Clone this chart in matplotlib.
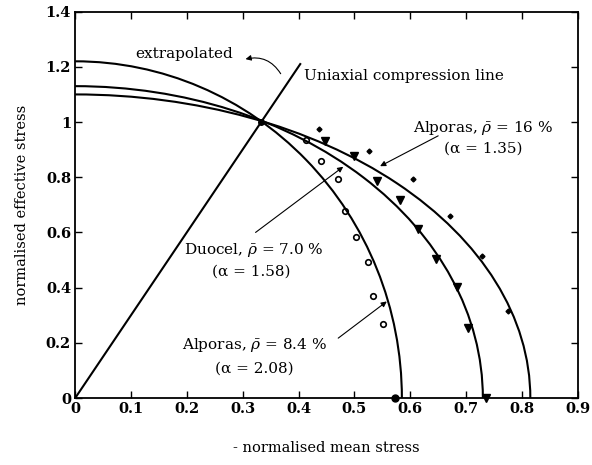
import matplotlib
matplotlib.use('Agg')
import matplotlib.pyplot as plt
from matplotlib.patches import Arc

# yield surfaces: intercepts (mean-stress axis, effective-stress axis)
curve_x_int = [0.585, 0.73, 0.815]
curve_y_int = [1.22, 1.13, 1.10]

# Alporas 8.4 % (open circles)
alp84_x = [0.413, 0.441, 0.471, 0.483, 0.503, 0.524, 0.534, 0.552]
alp84_y = [0.935, 0.859, 0.792, 0.679, 0.584, 0.492, 0.370, 0.267]
alp84_axis = [0.572]

# Duocel 7.0 % (filled triangles)
duo_x = [0.447, 0.500, 0.540, 0.581, 0.614, 0.646, 0.683, 0.704]
duo_y = [0.932, 0.878, 0.787, 0.717, 0.611, 0.503, 0.401, 0.255]
duo_axis = [0.735]

# Alporas 16 % (small diamonds)
alp16_x = [0.437, 0.526, 0.605, 0.671, 0.729, 0.775]
alp16_y = [0.974, 0.895, 0.792, 0.659, 0.514, 0.316]

# uniaxial compression line end points
uni_x = [0.0, 0.403]
uni_y = [0.0, 1.21]

xticks = [0, 0.1, 0.2, 0.3, 0.4, 0.5, 0.6, 0.7, 0.8, 0.9]
xticklabels = ['0', '0.1', '0.2', '0.3', '0.4', '0.5', '0.6', '0.7', '0.8', '0.9']
yticks = [0, 0.2, 0.4, 0.6, 0.8, 1.0, 1.2, 1.4]
yticklabels = ['0', '0.2', '0.4', '0.6', '0.8', '1', '1.2', '1.4']

plt.rcParams['font.family'] = 'DejaVu Serif'
plt.rcParams['mathtext.fontset'] = 'dejavuserif'

fig = plt.figure(figsize=(5.92, 4.65), dpi=100)
ax = fig.add_axes([0.127, 0.144, 0.849, 0.831])

for a, b in zip(curve_x_int, curve_y_int):
    ax.add_patch(Arc((0, 0), 2 * a, 2 * b, theta1=0, theta2=90, color='black', lw=1.5))

ax.plot(uni_x, uni_y, color='black', lw=1.5)
ax.plot([1 / 3], [1.0], 'o', color='black', ms=4)

ax.plot(alp84_x, alp84_y, 'o', mfc='none', mec='black', ms=4, mew=1.2)
ax.plot(alp84_axis, [0] * len(alp84_axis), 'o', color='black', ms=5, clip_on=False)
ax.plot(duo_x, duo_y, 'v', color='black', ms=6)
ax.plot(duo_axis, [0] * len(duo_axis), 'v', color='black', ms=6, clip_on=False)
ax.plot(alp16_x, alp16_y, 'D', color='black', ms=2.5)

arrow = dict(arrowstyle='-|>', color='black', lw=0.8, mutation_scale=8, shrinkA=0, shrinkB=0)
fs = 11

ax.text(0.195, 1.245, 'extrapolated', fontsize=fs, ha='center', va='center')
ax.annotate('', xy=(0.305, 1.228), xytext=(0.368, 1.175),
            arrowprops=dict(arrow, connectionstyle='arc3,rad=0.35'))
ax.text(0.41, 1.168, 'Uniaxial compression line', fontsize=fs, va='center')

ax.text(0.73, 0.978, r'Alporas, $\bar{\rho}$ = 16 %', fontsize=fs, ha='center', va='center')
ax.text(0.73, 0.905, '(α = 1.35)', fontsize=fs, ha='center', va='center')
ax.annotate('', xy=(0.546, 0.84), xytext=(0.65, 0.95), arrowprops=arrow)

ax.text(0.32, 0.535, r'Duocel, $\bar{\rho}$ = 7.0 %', fontsize=fs, ha='center', va='center')
ax.text(0.315, 0.457, '(α = 1.58)', fontsize=fs, ha='center', va='center')
ax.annotate('', xy=(0.48, 0.838), xytext=(0.323, 0.60), arrowprops=arrow)

ax.text(0.322, 0.192, r'Alporas, $\bar{\rho}$ = 8.4 %', fontsize=fs, ha='center', va='center')
ax.text(0.32, 0.108, '(α = 2.08)', fontsize=fs, ha='center', va='center')
ax.annotate('', xy=(0.558, 0.35), xytext=(0.471, 0.217), arrowprops=arrow)

ax.set_xlim(0, 0.9)
ax.set_ylim(0, 1.4)
ax.set_xticks(xticks)
ax.set_xticklabels(xticklabels, fontweight='bold', fontsize=10.5)
ax.set_yticks(yticks)
ax.set_yticklabels(yticklabels, fontweight='bold', fontsize=10.5)
ax.tick_params(direction='in', top=True, right=True, length=5, width=1.0, pad=3)
for s in ax.spines.values():
    s.set_linewidth(1.3)

ax.set_xlabel('- normalised mean stress', fontsize=10.5, labelpad=18)
ax.set_ylabel('normalised effective stress', fontsize=10.5, labelpad=12)

fig.savefig('out.png', dpi=100)
